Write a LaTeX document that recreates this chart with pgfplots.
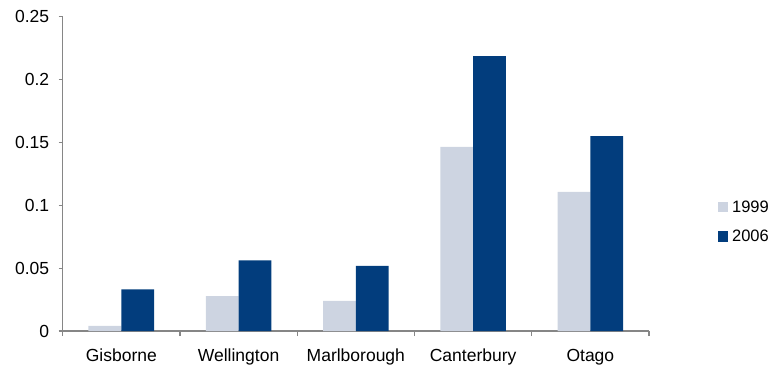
\documentclass[border=0pt]{standalone}
\usepackage{fontspec}
\setmainfont{Liberation Sans}
\usepackage{pgfplots}
\pgfplotsset{compat=1.18}
\definecolor{cA}{RGB}{205,212,225}
\definecolor{cB}{RGB}{2,61,125}
\definecolor{axgray}{RGB}{134,134,134}
\begin{document}
\begin{tikzpicture}
\begin{axis}[
  at={(0,0)}, anchor=south west,
  scale only axis, width=586.3bp, height=314.3bp,
  xmin=-0.5, xmax=4.5, ymin=0, ymax=0.25,
  ybar=0pt, bar width=0.28,
  axis x line*=bottom, axis y line*=left,
  axis line style={axgray, line width=1.1pt},
  every tick/.style={axgray, line width=1.1pt},
  tick align=outside,
  xtick={0,1,2,3,4},
  xticklabels={Gisborne,Wellington,Marlborough,Canterbury,Otago},
  major x tick style={draw=none},
  minor xtick={-0.5,0.5,1.5,2.5,3.5,4.5},
  minor tick length=5bp,
  ytick={0,0.05,0.1,0.15,0.2,0.25},
  major tick length=4bp,
  scaled y ticks=false,
  yticklabel={\pgfmathprintnumber[fixed,precision=2,assume math mode=true]{\tick}},
  ticklabel style={font=\fontsize{17.5bp}{20bp}\selectfont, text=black},
  xticklabel style={yshift=-10.5bp},
  yticklabel style={xshift=-6bp},
  legend style={draw=none, fill=none, at={(655.2bp,109bp)}, anchor=west,
    font=\fontsize{16.5bp}{19bp}\selectfont, row sep=12bp, inner sep=0pt,
    legend cell align=left},
  legend image code/.code={\fill[#1] (0bp,-5bp) rectangle (10bp,5bp); \path (12bp,0bp);},
]
\addplot[draw=none, fill=cA] coordinates {(0,0.004) (1,0.0278) (2,0.0239) (3,0.1465) (4,0.1107)};
\addplot[draw=none, fill=cB] coordinates {(0,0.0332) (1,0.0562) (2,0.0519) (3,0.2187) (4,0.155)};
\legend{1999,2006}
\end{axis}
\pgfresetboundingbox
\path[use as bounding box] (-62.7bp,-37bp) rectangle (706.3bp,331bp);
\end{tikzpicture}
\end{document}
